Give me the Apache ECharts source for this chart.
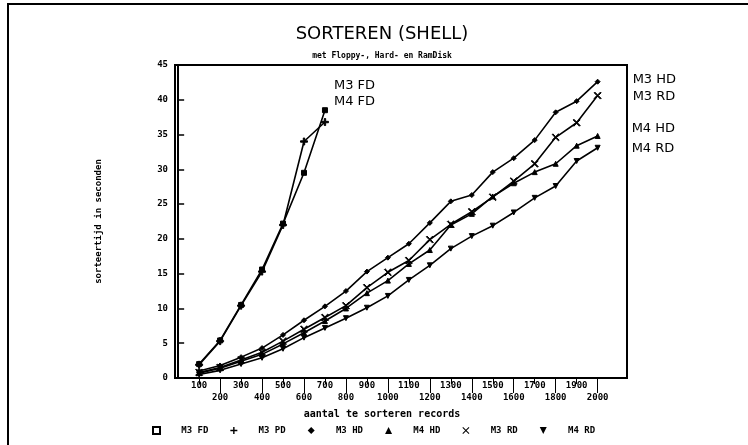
<!DOCTYPE html>
<html>
<head>
<meta charset="utf-8">
<script src="https://cdn.jsdelivr.net/npm/echarts@6/dist/echarts.min.js"></script>
<style>
html,body{margin:0;padding:0;background:#fff;}
#frame{position:absolute;left:7px;top:3px;width:741px;height:442px;border-top:2px solid #000;border-left:2px solid #000;box-sizing:border-box;}
#chart{position:absolute;left:0;top:0;width:748px;height:445px;}
</style>
</head>
<body>
<div id="frame"></div>
<div id="chart"></div>
<script>
// ---- data ----
const records = [100,200,300,400,500,600,700,800,900,1000,1100,1200,1300,1400,1500,1600,1700,1800,1900,2000];
const recordsFD = [100,200,300,400,500,600,700];
const m3fd = [2.0,5.4,10.5,15.6,22.2,29.5,38.5];
const m4fd = [1.9,5.3,10.4,15.3,22.0,34.0,36.8];
const m3hd = [1.0,1.8,3.0,4.3,6.2,8.3,10.3,12.5,15.3,17.3,19.3,22.3,25.4,26.3,29.6,31.6,34.2,38.2,39.8,42.6];
const m4hd = [0.7,1.4,2.4,3.4,4.9,6.5,8.2,10.0,12.2,14.0,16.4,18.4,22.0,23.6,26.1,28.0,29.6,30.8,33.4,34.8];
const m3rd = [0.8,1.5,2.6,3.7,5.3,7.0,8.7,10.4,13.0,15.2,16.9,19.9,22.1,23.9,26.0,28.3,30.8,34.6,36.7,40.6];
const m4rd = [0.5,1.1,2.0,2.9,4.2,5.8,7.2,8.6,10.1,11.8,14.1,16.2,18.6,20.4,21.9,23.8,25.9,27.6,31.2,33.1];
const xTopLabels = [100,300,500,700,900,1100,1300,1500,1700,1900];
const xBottomLabels = [200,400,600,800,1000,1200,1400,1600,1800,2000];
const seriesNames = ['M3 FD','M4 FD','M3 HD','M4 HD','M3 RD','M4 RD'];
const legendTexts = ['M3 FD','M3 PD','M3 HD','M4 HD','M3 RD','M4 RD'];

// ---- symbols ----
const SYM_PLUS = 'path://M4,0H6V4H10V6H6V10H4V6H0V4H4Z';
const SYM_X = 'path://M0,1L1,0L5,4L9,0L10,1L6,5L10,9L9,10L5,6L1,10L0,9L4,5Z';
const SYM_DOWN = 'path://M0,0L10,0L5,10Z';
const symbols = ['rect', SYM_PLUS, 'diamond', 'triangle', SYM_X, SYM_DOWN];

const mono = '"DejaVu Sans Mono", monospace';
const sans = '"DejaVu Sans", sans-serif';

function zip(xs, ys){ return ys.map((y,i)=>[xs[i], y]); }

const endOffsets = [[9,-25],[9,-20],[35,-2],[34,-7],[35,1],[34,1]];
const datasets = [zip(recordsFD,m3fd), zip(recordsFD,m4fd), zip(records,m3hd), zip(records,m4hd), zip(records,m3rd), zip(records,m4rd)];

const series = seriesNames.map((name,i)=>({
  name: name,
  type: 'line',
  xAxisIndex: 0,
  data: datasets[i],
  symbol: symbols[i],
  symbolSize: i===1||i===4 ? 7 : 5,
  showAllSymbol: true,
  lineStyle: {color:'#000', width:1.6},
  itemStyle: {color:'#000', borderColor:'#000'},
  endLabel: {
    show: true,
    formatter: name,
    distance: 0,
    offset: endOffsets[i],
    align: 'left',
    verticalAlign: 'middle',
    fontFamily: sans,
    fontSize: 13,
    color: '#000'
  },
  emphasis: {disabled: true}
}));

const plain = v => String(v);

const chart = echarts.init(document.getElementById('chart'), null, {renderer:'canvas'});
chart.setOption({
  animation: false,
  backgroundColor: 'transparent',
  title: [
    {text: 'SORTEREN (SHELL)', left: 377, top: 20, textAlign: 'center',
     textStyle: {fontFamily: sans, fontSize: 18, fontWeight: 'normal', color:'#000'}},
    {text: 'met Floppy-, Hard- en RamDisk', left: 377, top: 47, textAlign: 'center',
     textStyle: {fontFamily: mono, fontSize: 8, fontWeight: 'bold', color:'#000'}},
    {text: 'aantal te sorteren records', left: 377, top: 404, textAlign: 'center',
     textStyle: {fontFamily: mono, fontSize: 10, fontWeight: 'bold', color:'#000'}}
  ],
  grid: {left: 175, right: 121, top: 65, bottom: 67, show: true, borderColor: '#000', borderWidth: 2, backgroundColor: 'transparent'},
  legend: {
    left: 147, top: 421,
    itemWidth: 7, itemHeight: 7, itemGap: 22,
    data: seriesNames.map((n,i)=>({name:n, icon: symbols[i],
      itemStyle: i===0 ? {color:'#fff', borderColor:'#000', borderWidth:2} : {color:'#000', borderWidth:0}})),
    formatter: function(n){ return '   ' + legendTexts[seriesNames.indexOf(n)]; },
    textStyle: {fontFamily: mono, fontSize: 9, fontWeight: 'bold', color:'#000'},
    selectedMode: false
  },
  xAxis: [
    {type: 'value', min: -15, max: 2140, position: 'bottom',
     axisLine: {show: true, onZero: false, lineStyle: {color:'#000', width: 2}},
     axisTick: {show: true, customValues: xTopLabels, length: 6, inside: false, lineStyle: {color:'#000', width:1}},
     axisLabel: {customValues: xTopLabels, formatter: plain, margin: 3, fontFamily: mono, fontSize: 9, fontWeight: 'bold', color:'#000'},
     splitLine: {show: false}},
    {type: 'value', min: -15, max: 2140, position: 'bottom', gridIndex: 0,
     axisLine: {show: false},
     axisTick: {show: true, customValues: xBottomLabels, length: 15, inside: false, lineStyle: {color:'#000', width:1}},
     axisLabel: {customValues: xBottomLabels, formatter: plain, margin: 15, fontFamily: mono, fontSize: 9, fontWeight: 'bold', color:'#000'},
     splitLine: {show: false}}
  ],
  yAxis: {
    type: 'value', min: 0, max: 45, interval: 5,
    name: 'sorteertijd in seconden', nameLocation: 'middle', nameGap: 72, nameRotate: 90,
    nameTextStyle: {fontFamily: mono, fontSize: 9, fontWeight: 'bold', color:'#000'},
    axisLine: {show: true, lineStyle: {color:'#000', width: 2}},
    axisTick: {show: true, inside: true, length: 6, lineStyle: {color:'#000', width: 1.5}},
    axisLabel: {formatter: plain, margin: 7, fontFamily: mono, fontSize: 9, fontWeight: 'bold', color:'#000'},
    splitLine: {show: false}
  },
  series: series
});
</script>
</body>
</html>
